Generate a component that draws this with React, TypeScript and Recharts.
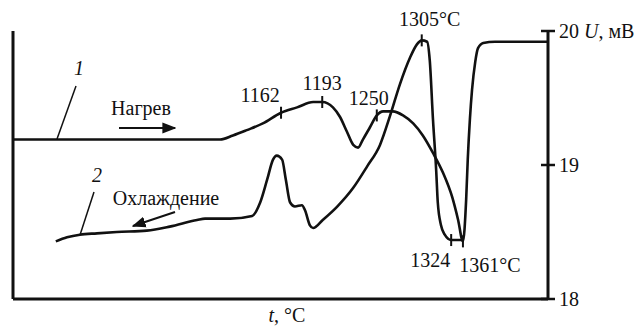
import React from "react";
import {
  LineChart,
  Line,
  Scatter,
  XAxis,
  YAxis,
  Customized,
} from "recharts";

// heating run (curve 1): position along the record vs. U, mV
const heatT = [
  0, 35.0, 38.7, 41.1, 43.7, 46.7, 50.1, 53.1, 56.1, 57.8, 59.8, 61.1, 62.4,
  63.6, 64.5, 65.4, 66.7, 68.0, 69.2, 71.0, 72.9, 74.8, 76.6, 78.5, 80.4, 82.1,
  83.2, 84.1, 84.7, 85.0, 85.4, 85.8, 86.4, 86.9, 87.9, 90.1, 100,
];
const heatU = [
  19.19, 19.19, 19.19, 19.22, 19.26, 19.31, 19.39, 19.43, 19.47, 19.47, 19.43,
  19.36, 19.25, 19.15, 19.13, 19.19, 19.28, 19.37, 19.4, 19.4, 19.37, 19.31,
  19.22, 19.09, 18.94, 18.76, 18.59, 18.43, 18.74, 19.04, 19.34, 19.56, 19.77,
  19.87, 19.91, 19.92, 19.92,
];

// cooling run (curve 2)
const coolT = [
  8.0, 10.1, 12.5, 15.7, 19.4, 25.0, 29.3, 34.4, 35.9, 40.6, 44.7, 46.2, 47.5,
  48.6, 49.3, 50.3, 51.0, 51.8, 52.7, 54.0, 54.6, 55.5, 56.1, 57.9, 60.6, 63.6,
  66.2, 68.6, 70.5, 72.3, 74.2, 75.5, 76.4, 77.4, 77.9, 78.5, 79.1, 79.4, 80.0,
  80.7, 81.9, 84.1,
];
const coolU = [
  18.43, 18.46, 18.48, 18.49, 18.5, 18.51, 18.54, 18.59, 18.6, 18.6, 18.62,
  18.72, 18.89, 19.04, 19.07, 19.04, 18.89, 18.72, 18.69, 18.7, 18.66, 18.55,
  18.53, 18.59, 18.69, 18.83, 18.99, 19.15, 19.37, 19.6, 19.8, 19.9, 19.93,
  19.92, 19.78, 19.34, 18.96, 18.72, 18.55, 18.48, 18.44, 18.44,
];

// marked temperatures on the curves
const markT = [50.1, 57.8, 68.0, 76.4, 81.9, 84.1];
const markU = [19.39, 19.47, 19.37, 19.93, 18.44, 18.43];
const markLabel = ["1162", "1193", "1250", "1305°C", "1324", "1361°C"];

const uTicks = [18, 19, 20];

const heating = heatT.map((t, i) => ({ t, u: heatU[i] }));
const cooling = coolT.map((t, i) => ({ t, u: coolU[i] }));
const marks = markT.map((t, i) => ({ t, u: markU[i], label: markLabel[i] }));

// where each temperature label sits relative to its tick mark
const labelShift: Record<string, [number, number]> = {
  "1162": [-21, -11],
  "1193": [0, -12],
  "1250": [-8, -10],
  "1305°C": [8, -14],
  "1324": [-21, 27],
  "1361°C": [27, 31],
};

const INK = "#111";
const txt: React.CSSProperties = {
  fontFamily: "'Liberation Serif', 'DejaVu Serif', serif",
  fontSize: 20,
  fill: INK,
};

const MarkShape = (props: any) => {
  const { cx, cy, payload } = props;
  const [dx, dy] = labelShift[payload.label] || [0, -12];
  return (
    <g>
      <line x1={cx} x2={cx} y1={cy - 6} y2={cy + 6} stroke={INK} strokeWidth={2} />
      <text x={cx + dx} y={cy + dy} textAnchor="middle" style={txt}>
        {payload.label}
      </text>
    </g>
  );
};

const UTick = (props: any) => {
  const { x, y, payload } = props;
  return (
    <g>
      <line x1={x - 7} x2={x + 7} y1={y} y2={y} stroke={INK} strokeWidth={2.5} />
      <text x={x + 11} y={y + 7} style={txt}>
        {payload.value}
        {payload.value === 20 && (
          <>
            <tspan style={{ fontStyle: "italic" }}> U</tspan>
            <tspan>, мВ</tspan>
          </>
        )}
      </text>
    </g>
  );
};

const Notes = () => (
  <g>
    <defs>
      <marker
        id="head"
        viewBox="0 0 10 10"
        refX="9"
        refY="5"
        markerWidth="7"
        markerHeight="7"
        orient="auto"
      >
        <path d="M0,1 L10,5 L0,9 z" fill={INK} />
      </marker>
    </defs>
    <text x={79} y={75} textAnchor="middle" style={{ ...txt, fontStyle: "italic" }}>1</text>
    <line x1={76} y1={86} x2={57} y2={139} stroke={INK} strokeWidth={1.5} />
    <text x={141} y={115} textAnchor="middle" style={txt}>Нагрев</text>
    <line x1={119} y1={128} x2={175} y2={128} stroke={INK} strokeWidth={2} markerEnd="url(#head)" />

    <text x={97} y={182} textAnchor="middle" style={{ ...txt, fontStyle: "italic" }}>2</text>
    <line x1={94} y1={192} x2={80} y2={235} stroke={INK} strokeWidth={1.5} />
    <text x={166} y={205} textAnchor="middle" style={txt}>Охлаждение</text>
    <line x1={175} y1={212} x2={133} y2={226} stroke={INK} strokeWidth={2} markerEnd="url(#head)" />

    <text x={287} y={322} textAnchor="middle" style={txt}>
      <tspan style={{ fontStyle: "italic" }}>t</tspan>, °C
    </text>
  </g>
);

export default function App() {
  return (
    <div style={{ position: "absolute", left: 0, top: 0, width: 644, height: 329, background: "#fff" }}>
      <LineChart
        width={644}
        height={329}
        margin={{ top: 31, right: 0, bottom: 0, left: 0 }}
      >
        <XAxis
          type="number"
          dataKey="t"
          domain={[0, 100]}
          height={30}
          tick={false}
          tickLine={false}
          axisLine={{ stroke: INK, strokeWidth: 3 }}
        />
        <YAxis
          yAxisId="l"
          orientation="left"
          width={13}
          domain={[18, 20]}
          tick={false}
          tickLine={false}
          axisLine={{ stroke: INK, strokeWidth: 3 }}
        />
        <YAxis
          yAxisId="u"
          orientation="right"
          dataKey="u"
          width={96}
          domain={[18, 20]}
          ticks={uTicks}
          tickSize={0}
          tickMargin={0}
          tickLine={false}
          tick={<UTick />}
          axisLine={{ stroke: INK, strokeWidth: 3 }}
        />
        <Line
          yAxisId="u"
          data={heating}
          dataKey="u"
          type="monotone"
          stroke={INK}
          strokeWidth={2.6}
          dot={false}
          isAnimationActive={false}
        />
        <Line
          yAxisId="u"
          data={cooling}
          dataKey="u"
          type="monotone"
          stroke={INK}
          strokeWidth={2.6}
          dot={false}
          isAnimationActive={false}
        />
        <Scatter
          yAxisId="u"
          data={marks}
          dataKey="u"
          shape={<MarkShape />}
          isAnimationActive={false}
        />
        <Customized component={Notes} />
      </LineChart>
    </div>
  );
}
